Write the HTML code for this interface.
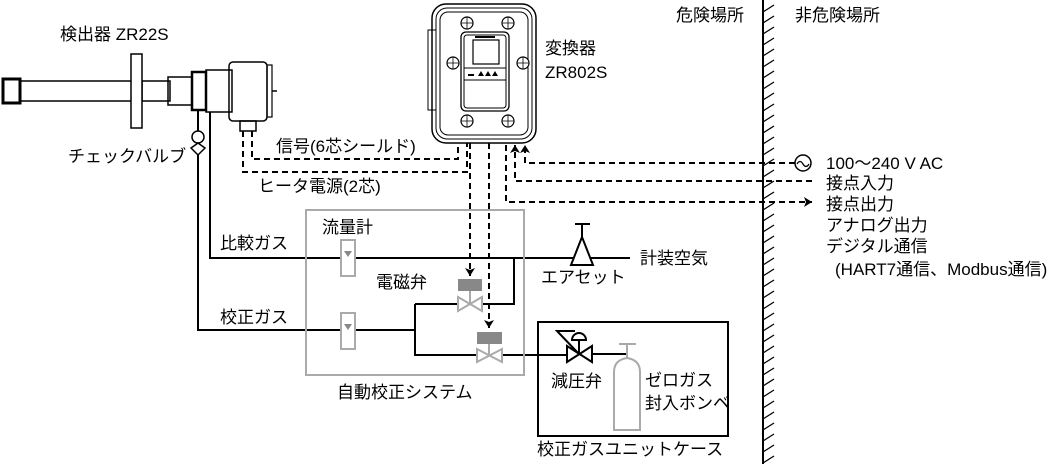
<!DOCTYPE html>
<html><head><meta charset="utf-8"><style>
body{margin:0;background:#fff}
svg{display:block}
text{font-family:"Liberation Sans","Noto Sans CJK JP",sans-serif;font-size:17px;fill:#000}
</style></head><body>
<svg width="1054" height="468" viewBox="0 0 1054 468" xmlns="http://www.w3.org/2000/svg">
<defs>
<marker id="ah" markerWidth="8" markerHeight="10" refX="8" refY="5" orient="auto" markerUnits="userSpaceOnUse"><path d="M0,0 L8,5 L0,10 L2,5 Z" fill="#000"/></marker>
</defs>
<g fill="none" stroke="#000" stroke-width="2">
<rect x="3" y="79" width="17" height="24" stroke-width="3"/>
<rect x="20" y="81" width="112" height="20" stroke-width="1.5"/>
<rect x="142" y="81" width="28" height="20" stroke-width="1.5"/>
<rect x="131" y="54" width="11" height="74" stroke-width="1.5" fill="#fff"/>
<rect x="168" y="77" width="24" height="28" stroke-width="1.5"/>
<rect x="192" y="72" width="14" height="38" stroke-width="2.5"/>
<rect x="206" y="70" width="26" height="42" stroke-width="1.5"/>
<rect x="229" y="62" width="38" height="59" rx="4" stroke-width="1.5"/>
<rect x="267" y="65" width="5" height="52" stroke-width="1.2"/>
<line x1="272" y1="91" x2="277" y2="91" stroke-width="1.5"/>
<rect x="240" y="121" width="16" height="10" stroke-width="1.5"/>
<polyline points="198,110 198,330 415,330"/>
<polyline points="210,112 210,258 630,258"/>
<polyline points="415,304 415,355 477,355"/>
<polyline points="415,304 458,304"/>
<polyline points="482,304 514,304 514,258"/>
<line x1="502" y1="355" x2="566" y2="355"/>
<line x1="592" y1="354" x2="627" y2="354"/>
</g>
<circle cx="198" cy="137" r="6" fill="#fff" stroke="#000" stroke-width="1.5"/>
<path d="M191,148 L198,143 L205,148 L198,155 Z" fill="#fff" stroke="#000" stroke-width="1.5"/>
<g fill="none" stroke="#000" stroke-width="2" stroke-dasharray="6,4">
<polyline points="252,131 252,159 458,159 458,143"/>
<polyline points="243,131 243,172 467,172 467,143"/>
<line x1="470" y1="143" x2="470" y2="276" marker-end="url(#ah)"/>
<line x1="489" y1="143" x2="489" y2="328" marker-end="url(#ah)"/>
<polyline points="795,163 525,163 525,145" marker-end="url(#ah)"/>
<polyline points="812,181 515,181 515,145" marker-end="url(#ah)"/>
<polyline points="506,145 506,202 812,202" marker-end="url(#ah)"/>
</g>
<circle cx="803" cy="163" r="8" fill="#fff" stroke="#000" stroke-width="1.5"/>
<path d="M797,164 q3,-5 6,0 t6,0" fill="none" stroke="#000" stroke-width="1.3"/>
<g fill="none" stroke="#000">
<rect x="432" y="4" width="104" height="139" rx="14" stroke-width="1.5"/>
<rect x="436" y="8" width="96" height="131" rx="11" stroke-width="1"/>
<rect x="440" y="12" width="88" height="123" rx="8" stroke-width="1"/>
<rect x="428" y="30" width="8" height="80" stroke-width="1"/>
<rect x="461" y="32" width="48" height="79" rx="5" stroke-width="1.3"/>
<rect x="464" y="35" width="42" height="73" rx="3" stroke-width="1"/>
<rect x="473" y="40" width="26" height="24" stroke-width="1.2"/>
<line x1="464" y1="68" x2="506" y2="68" stroke-width="1"/>
<line x1="464" y1="80" x2="506" y2="80" stroke-width="1"/>
</g>
<rect x="475" y="36" width="20" height="2" fill="#000"/>
<g fill="#000"><path d="M478,76 l3,-5 l3,5z"/><path d="M485,76 l3,-5 l3,5z"/><path d="M492,76 l3,-5 l3,5z"/><rect x="468" y="74" width="6" height="2"/></g>
<g fill="#fff" stroke="#000" stroke-width="1.2">
<circle cx="467" cy="23" r="6"/><circle cx="508" cy="23" r="6"/>
<circle cx="453" cy="63" r="6"/><circle cx="523" cy="63" r="6"/>
<circle cx="467" cy="121" r="6"/><circle cx="508" cy="121" r="6"/>
</g>
<g stroke="#000" stroke-width="0.8">
<path d="M461,23h12M467,17v12M502,23h12M508,17v12M447,63h12M453,57v12M517,63h12M523,57v12M461,121h12M467,115v12M502,121h12M508,115v12"/>
</g>
<rect x="306" y="210" width="218" height="165" fill="none" stroke="#aaa" stroke-width="2"/>
<g fill="#fff" stroke="#aaa" stroke-width="2">
<rect x="341" y="240" width="14" height="36"/>
<rect x="341" y="313" width="14" height="36"/>
<path d="M458,297 L482,311 L482,297 L458,311 Z"/>
<path d="M477,349 L502,362 L502,349 L477,362 Z"/>
<line x1="470" y1="290" x2="470" y2="304"/>
<line x1="489" y1="343" x2="489" y2="355"/>
</g>
<g fill="#888">
<path d="M344,251 h8 l-4,6z"/><path d="M344,324 h8 l-4,6z"/>
<rect x="458" y="279" width="24" height="12"/>
<rect x="477" y="332" width="25" height="12"/>
</g>
<g fill="#fff" stroke="#000" stroke-width="2">
<path d="M582,237 L571,265 L593,265 Z"/>
<line x1="582" y1="224" x2="582" y2="237"/>
<line x1="575" y1="224" x2="590" y2="224"/>
</g>
<rect x="538" y="322" width="190" height="114" fill="none" stroke="#000" stroke-width="2"/>
<g fill="#fff" stroke="#000" stroke-width="2">
<path d="M567,346 L592,362 L592,346 L567,362 Z"/>
<line x1="579" y1="340" x2="579" y2="354"/>
<path d="M572,340 a7,7 0 0 1 14,0 Z"/>
<polyline points="557,331 575,331 557,331 579,354" fill="none"/>
</g>
<g fill="#fff" stroke="#aaa" stroke-width="2">
<line x1="627" y1="344" x2="627" y2="360"/>
<line x1="619" y1="344" x2="636" y2="344"/>
<path d="M614,430 V372 Q614,360 627,358 Q640,360 640,372 V430 Z"/>
</g>
<line x1="763" y1="0" x2="763" y2="464" stroke="#000" stroke-width="2"/>
<path d="M763,12 l11,-7 M763,23 l11,-7 M763,34 l11,-7 M763,45 l11,-7 M763,56 l11,-7 M763,67 l11,-7 M763,78 l11,-7 M763,89 l11,-7 M763,100 l11,-7 M763,111 l11,-7 M763,122 l11,-7 M763,133 l11,-7 M763,144 l11,-7 M763,155 l11,-7 M763,166 l11,-7 M763,177 l11,-7 M763,188 l11,-7 M763,199 l11,-7 M763,210 l11,-7 M763,221 l11,-7 M763,232 l11,-7 M763,243 l11,-7 M763,254 l11,-7 M763,265 l11,-7 M763,276 l11,-7 M763,287 l11,-7 M763,298 l11,-7 M763,309 l11,-7 M763,320 l11,-7 M763,331 l11,-7 M763,342 l11,-7 M763,353 l11,-7 M763,364 l11,-7 M763,375 l11,-7 M763,386 l11,-7 M763,397 l11,-7 M763,408 l11,-7 M763,419 l11,-7 M763,430 l11,-7 M763,441 l11,-7 M763,452 l11,-7 M763,463 l11,-7" stroke="#000" stroke-width="1.3" fill="none"/>
<text x="60" y="40">検出器 ZR22S</text>
<text x="676" y="21">危険場所</text>
<text x="795" y="21">非危険場所</text>
<text x="545" y="54">変換器</text>
<text x="545" y="78">ZR802S</text>
<text x="68" y="162">チェックバルブ</text>
<text x="276" y="152">信号(6芯シールド)</text>
<text x="258" y="192">ヒータ電源(2芯)</text>
<text x="220" y="249">比較ガス</text>
<text x="220" y="323">校正ガス</text>
<text x="322" y="233">流量計</text>
<text x="376" y="288">電磁弁</text>
<text x="541" y="283">エアセット</text>
<text x="640" y="264">計装空気</text>
<text x="337" y="398">自動校正システム</text>
<text x="551" y="387">減圧弁</text>
<text x="645" y="386">ゼロガス</text>
<text x="645" y="409">封入ボンベ</text>
<text x="537" y="455">校正ガスユニットケース</text>
<text x="826" y="169">100〜240 V AC</text>
<text x="826" y="189">接点入力</text>
<text x="826" y="210">接点出力</text>
<text x="826" y="231">アナログ出力</text>
<text x="826" y="252">デジタル通信</text>
<text x="835" y="275">(HART7通信、Modbus通信)</text>
</svg>
</body></html>
